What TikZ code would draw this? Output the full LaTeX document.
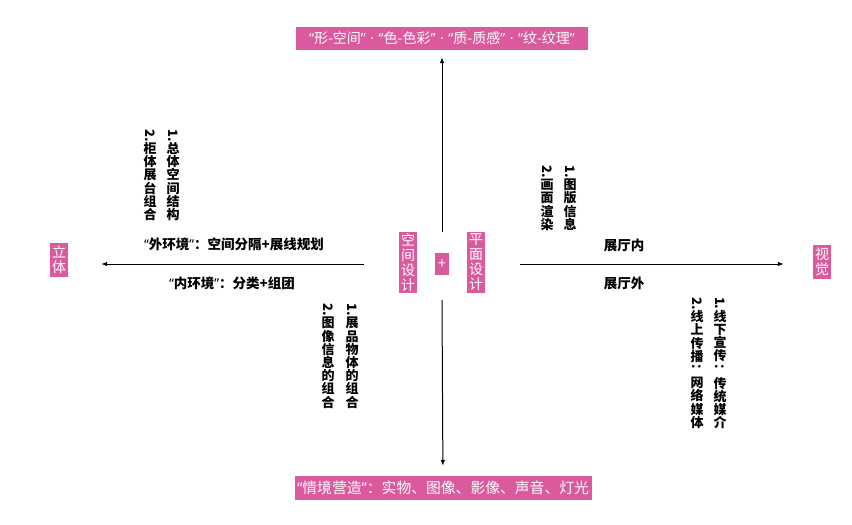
\documentclass[tikz,border=0pt]{standalone}
\usepackage{fontspec}
\usepackage{graphicx}
\setmainfont{Noto Sans CJK SC}
\newfontfamily\lat{Noto Sans}
\usetikzlibrary{arrows.meta}
\definecolor{pk}{RGB}{219,90,158}
\newcommand{\rt}[1]{\rotatebox[origin=c]{-90}{#1}}
\newcommand{\myLq}{{\lat “}}
\newcommand{\myRq}{{\lat ”}}
\newcommand{\mySep}{{\lat\hspace{4.5pt}·\hspace{4.5pt}}}
\begin{document}
\begin{tikzpicture}[x=1pt,y=-1pt,
  pinkbox/.style={fill=pk,text=white,inner sep=0pt,font=\fontsize{14}{14}\selectfont},
  vpink/.style={fill=pk,text=white,inner sep=0pt,align=center,minimum width=18,font=\fontsize{14}{15}\selectfont},
  lbl/.style={inner sep=0pt,font=\bfseries\fontsize{13.5}{14}\selectfont},
  vtext/.style={inner sep=0pt,align=center,font=\bfseries\fontsize{13}{13.2}\selectfont},
  arr/.style={-{Latex[length=6pt,width=4.5pt]},line width=1pt}]
\useasboundingbox (0,0) rectangle (852,525);
\fill[white] (0,0) rectangle (852,525);
% pink boxes
\node[pinkbox,minimum width=292,minimum height=23] (top) at (442,38.5) {\myLq 形-空间\myRq\mySep\myLq 色-色彩\myRq\mySep\myLq 质-质感\myRq\mySep\myLq 纹-纹理\myRq};
\node[pinkbox,minimum width=297,minimum height=24,font=\fontsize{14.8}{15}\selectfont] (bot) at (443,488) {\myLq 情境营造\myRq：实物、图像、影像、声音、灯光};
\node[vpink,minimum height=34] (li) at (59,260) {立\\体};
\node[vpink,minimum height=34] (vi) at (822,262) {视\\觉};
\node[vpink,minimum height=61] (kj) at (408,262.5) {空\\间\\设\\计};
\node[vpink,minimum height=61] (pm) at (476,262.5) {平\\面\\设\\计};
\node[pinkbox,minimum width=14,minimum height=22] (plus) at (442,264) {+};
% arrows
\coordinate (ct) at (442,232);
\coordinate (cb) at (442,300);
\coordinate (cl) at (364,264);
\coordinate (cr) at (520,264);
\draw[arr,shorten >=7] (ct) -- (top);
\draw[arr,shorten >=10] (cb) -- (bot);
\draw[arr,shorten >=33] (cl) -- (cl -| li.east);
\draw[arr,shorten >=29] (cr) -- (cr -| vi.west);
% horizontal labels
\node[lbl] (wh) at (234,244) {\myLq 外环境\myRq：空间分隔+展线规划};
\node[lbl] (nh) at (232,283) {\myLq 内环境\myRq：分类+组团};
\node[lbl] (tn) at (624,245) {展厅内};
\node[lbl] (tw) at (624,283) {展厅外};
% vertical labels
\node[vtext] (a1) at (173,175) {\rt{1.}\\总\\体\\空\\间\\结\\构};
\node[vtext] (a2) at (150,175) {\rt{2.}\\柜\\体\\展\\台\\组\\合};
\node[vtext] (b1) at (352,356) {\rt{1.}\\展\\品\\物\\体\\的\\组\\合};
\node[vtext] (b2) at (328,356) {\rt{2.}\\图\\像\\信\\息\\的\\组\\合};
\node[vtext] (c1) at (570,198) {\rt{1.}\\图\\版\\信\\息};
\node[vtext] (c2) at (547,198) {\rt{2.}\\画\\面\\渲\\染};
\node[vtext] (d1) at (720,363) {\rt{1.}\\线\\下\\宣\\传\\\rt{：}\\传\\统\\媒\\介};
\node[vtext] (d2) at (697,363) {\rt{2.}\\线\\上\\传\\播\\\rt{：}\\网\\络\\媒\\体};
\end{tikzpicture}
\end{document}
